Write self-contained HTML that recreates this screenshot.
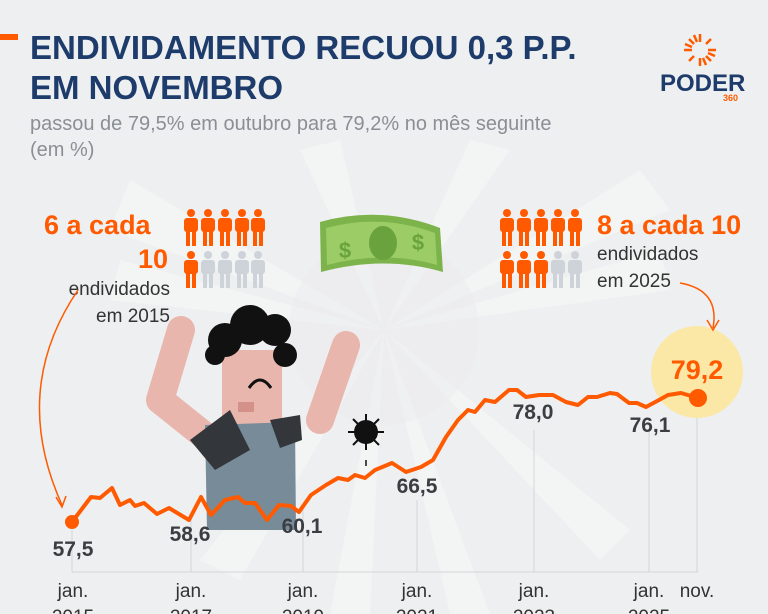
<!DOCTYPE html>
<html><head><meta charset="utf-8"><style>
body{margin:0;width:768px;height:614px;overflow:hidden;background:#eeeff0;font-family:"Liberation Sans",sans-serif;}
svg{position:absolute;left:0;top:0}
</style></head><body>
<svg width="768" height="614" viewBox="0 0 768 614">
<defs>
<g id="p"><circle cx="0" cy="-15" r="4"/><rect x="-7" y="-10" width="14" height="14" rx="3"/><rect x="-5" y="2" width="4" height="16"/><rect x="1" y="2" width="4" height="16"/></g>
</defs>
<rect width="768" height="614" fill="#eeeff0"/>
<g fill="#f3f4f4">
<polygon points="384,330 130,180 110,230"/>
<polygon points="384,330 120,260 110,300"/>
<polygon points="384,330 640,170 670,210"/>
<polygon points="384,330 660,250 670,290"/>
<polygon points="384,330 200,560 240,580"/>
<polygon points="384,330 330,614 370,614"/>
<polygon points="384,330 450,614 490,614"/>
<polygon points="384,330 600,560 630,530"/>
<polygon points="384,330 300,150 340,140"/>
<polygon points="384,330 470,140 510,150"/>
</g>
<circle cx="384" cy="330" r="95" fill="#ebeced" opacity="0.5"/>
<rect x="0" y="34" width="18" height="6" fill="#ff5a00"/>
<text x="30" y="59" font-size="33" font-weight="bold" fill="#1d3b6b">ENDIVIDAMENTO RECUOU 0,3 P.P.</text>
<text x="30" y="99" font-size="33" font-weight="bold" fill="#1d3b6b">EM NOVEMBRO</text>
<text x="30" y="130" font-size="20" fill="#8a8f96">passou de 79,5% em outubro para 79,2% no mês seguinte</text>
<text x="30" y="156" font-size="20" fill="#8a8f96">(em %)</text>
<g transform="translate(700,50)" stroke="#ff5a00" stroke-width="2.5">
<line x1="0" y1="-16" x2="0" y2="-8"/><line x1="0" y1="8" x2="0" y2="16"/><line x1="-16" y1="0" x2="-8" y2="0"/><line x1="8" y1="0" x2="16" y2="0"/>
<line x1="-11" y1="-11" x2="-6" y2="-6"/><line x1="11" y1="11" x2="6" y2="6"/><line x1="-11" y1="11" x2="-6" y2="6"/><line x1="11" y1="-11" x2="6" y2="-6"/>
<line x1="-15" y1="-6" x2="-8" y2="-3"/><line x1="15" y1="6" x2="8" y2="3"/><line x1="-6" y1="-15" x2="-3" y2="-8"/><line x1="6" y1="15" x2="3" y2="8"/>
</g>
<text x="660" y="91" font-size="24" font-weight="bold" fill="#1d3b6b">PODER</text>
<text x="723" y="101" font-size="9" font-weight="bold" fill="#ff5a00">360</text>
<text x="44" y="234" font-size="27" font-weight="bold" fill="#ff5a00">6 a cada</text>
<text x="138" y="268" font-size="27" font-weight="bold" fill="#ff5a00">10</text>
<text x="170" y="295" font-size="19" fill="#333" text-anchor="end">endividados</text>
<text x="170" y="322" font-size="19" fill="#333" text-anchor="end">em 2015</text>
<g fill="#ff5a00"><use href="#p" x="191" y="228"/><use href="#p" x="208" y="228"/><use href="#p" x="225" y="228"/><use href="#p" x="242" y="228"/><use href="#p" x="258" y="228"/><use href="#p" x="191" y="270"/></g>
<g fill="#cdd3d8"><use href="#p" x="208" y="270"/><use href="#p" x="225" y="270"/><use href="#p" x="242" y="270"/><use href="#p" x="258" y="270"/></g>
<g fill="#ff5a00"><use href="#p" x="507" y="228"/><use href="#p" x="524" y="228"/><use href="#p" x="541" y="228"/><use href="#p" x="558" y="228"/><use href="#p" x="575" y="228"/><use href="#p" x="507" y="270"/><use href="#p" x="524" y="270"/><use href="#p" x="541" y="270"/></g>
<g fill="#cdd3d8"><use href="#p" x="558" y="270"/><use href="#p" x="575" y="270"/></g>
<text x="597" y="234" font-size="27" font-weight="bold" fill="#ff5a00">8 a cada 10</text>
<text x="597" y="260" font-size="19" fill="#333">endividados</text>
<text x="597" y="287" font-size="19" fill="#333">em 2025</text>
<path d="M320,222 Q380,205 440,228 L443,272 Q385,255 321,272 Z" fill="#7cb34a"/>
<path d="M326,228 Q380,213 435,233 L437,265 Q385,250 327,265 Z" fill="#9ccc65"/>
<ellipse cx="383" cy="243" rx="14" ry="17" fill="#6aa33e"/>
<text x="345" y="258" font-size="22" font-weight="bold" fill="#6aa33e" text-anchor="middle">$</text>
<text x="418" y="250" font-size="22" font-weight="bold" fill="#6aa33e" text-anchor="middle">$</text>
<!-- person -->
<line x1="181" y1="330" x2="160" y2="400" stroke="#e8b6ad" stroke-width="28" stroke-linecap="round"/>
<line x1="160" y1="400" x2="210" y2="440" stroke="#e8b6ad" stroke-width="28"/>
<line x1="346" y1="345" x2="320" y2="420" stroke="#e8b6ad" stroke-width="28" stroke-linecap="round"/>
<rect x="222" y="350" width="60" height="80" rx="6" fill="#e8b6ad"/>
<rect x="238" y="402" width="16" height="10" fill="#d4918a"/>
<path d="M205,425 L295,422 L296,530 L207,530 Z" fill="#778c98"/>
<path d="M190,440 L230,410 L250,450 L215,470 Z" fill="#33363a"/>
<path d="M270,420 L300,415 L302,440 L280,448 Z" fill="#33363a"/>
<g fill="#111"><circle cx="225" cy="340" r="17"/><circle cx="250" cy="325" r="20"/><circle cx="275" cy="330" r="16"/><circle cx="285" cy="355" r="12"/><circle cx="215" cy="355" r="10"/></g>
<path d="M249,388 Q260,372 271,388" stroke="#111" stroke-width="3" fill="none"/>
<!-- virus -->
<circle cx="366" cy="432" r="12" fill="#111"/>
<g stroke="#111" stroke-width="2"><line x1="366" y1="414" x2="366" y2="450"/><line x1="348" y1="432" x2="384" y2="432"/><line x1="353" y1="419" x2="379" y2="445"/><line x1="353" y1="445" x2="379" y2="419"/></g>
<line x1="366" y1="460" x2="366" y2="466" stroke="#111" stroke-width="1.5"/>
<!-- grid -->
<g stroke="#d4d6d8" stroke-width="1"><line x1="72" y1="530" x2="72" y2="572"/><line x1="191" y1="518" x2="191" y2="572"/><line x1="303" y1="510" x2="303" y2="572"/><line x1="417" y1="500" x2="417" y2="572"/><line x1="534" y1="430" x2="534" y2="572"/><line x1="649" y1="430" x2="649" y2="572"/><line x1="697" y1="410" x2="697" y2="572"/><line x1="72" y1="572" x2="698" y2="572"/></g>
<circle cx="697" cy="372" r="46" fill="#fbe8a6"/>
<path d="M72,522 L91,497 L100,498 L112,488 L120,505 L130,500 L135,506 L144,503 L157,514 L169,508 L189,520 L201,497 L211,515 L225,500 L238,497 L245,503 L255,503 L267,520 L279,505 L291,506 L299,512 L311,495 L326,485 L338,478 L348,480 L355,475 L365,478 L375,470 L392,463 L406,472 L421,467 L433,460 L446,437 L458,420 L468,410 L475,412 L485,400 L495,402 L509,390 L517,390 L526,397 L539,395 L553,395 L566,402 L578,405 L588,397 L597,397 L610,393 L617,394 L629,403 L637,403 L646,407 L659,400 L668,395 L681,393 L698,398" fill="none" stroke="#ff5a00" stroke-width="4" stroke-linejoin="round"/>
<circle cx="72" cy="522" r="7" fill="#ff5a00"/>
<circle cx="698" cy="398" r="9" fill="#ff5a00"/>
<path d="M78,290 Q10,390 62,505" fill="none" stroke="#ff5a00" stroke-width="1.5"/>
<path d="M56,497 L62,507 L66,496" fill="none" stroke="#ff5a00" stroke-width="1.5"/>
<path d="M680,283 Q720,290 713,328" fill="none" stroke="#ff5a00" stroke-width="1.5"/>
<path d="M707,320 L713,330 L719,320" fill="none" stroke="#ff5a00" stroke-width="1.5"/>
<g font-size="21" font-weight="bold" fill="#3a3d42" text-anchor="middle">
<text x="73" y="556">57,5</text><text x="190" y="541">58,6</text><text x="302" y="533">60,1</text><text x="417" y="493">66,5</text><text x="533" y="419">78,0</text><text x="650" y="432">76,1</text>
</g>
<text x="697" y="379" font-size="27" font-weight="bold" fill="#ff5a00" text-anchor="middle">79,2</text>
<g font-size="19" fill="#333" text-anchor="middle">
<text x="73" y="597">jan.</text><text x="191" y="597">jan.</text><text x="303" y="597">jan.</text><text x="417" y="597">jan.</text><text x="534" y="597">jan.</text><text x="649" y="597">jan.</text><text x="697" y="597">nov.</text>
<text x="73" y="623">2015</text><text x="191" y="623">2017</text><text x="303" y="623">2019</text><text x="417" y="623">2021</text><text x="534" y="623">2023</text><text x="649" y="623">2025</text>
</g>
</svg>
</body></html>
